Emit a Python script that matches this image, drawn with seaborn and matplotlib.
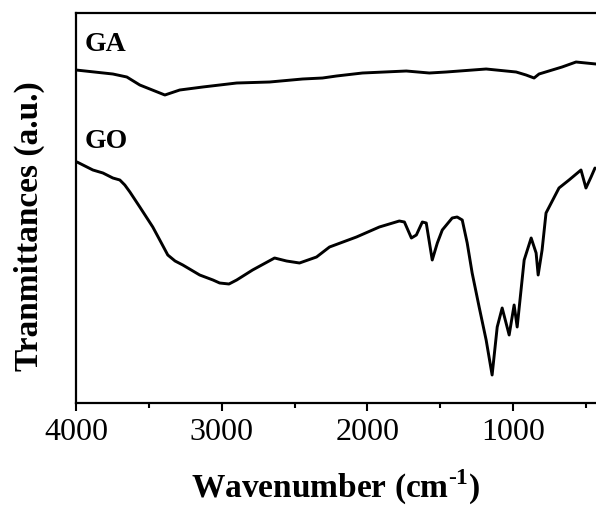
import numpy as np
import pandas as pd
import matplotlib
matplotlib.use("Agg")
import matplotlib.pyplot as plt
import seaborn as sns
from matplotlib.ticker import MultipleLocator

# GA spectrum (wavenumber, transmittance a.u.)
ga_wn = [4000, 3747, 3651, 3562, 3390, 3288, 3130, 2897, 2671, 2445, 2308, 2212,
         2034, 1733, 1575, 1459, 1185, 979, 911, 856, 822, 664, 568, 500, 431]
ga_t = [333, 329, 326, 318, 308, 313, 316, 320, 321, 324, 325, 327,
        330, 332, 330, 331, 334, 331, 328, 325, 329, 336, 341, 340, 339]

# GO spectrum
go_wn = [3993, 3884, 3815, 3747, 3699, 3665, 3630, 3562, 3473, 3425, 3370, 3320,
         3267, 3151, 3060, 3014, 2950, 2897, 2788, 2637, 2555, 2466, 2349, 2260,
         2075, 1918, 1781, 1746, 1698, 1664, 1623, 1596, 1555, 1520, 1486, 1418,
         1384, 1349, 1315, 1281, 1233, 1185, 1144, 1109, 1075, 1027, 993, 972,
         924, 876, 842, 828, 801, 774, 685, 616, 534, 500, 465, 438]
go_t = [241, 233, 230, 225, 223, 218, 211, 196, 176, 163, 148, 142,
        138, 128, 123, 120, 119, 123, 133, 145, 142, 140, 146, 156,
        166, 176, 182, 181, 165, 168, 181, 180, 143, 160, 173, 185,
        186, 183, 160, 130, 96, 63, 28, 76, 95, 68, 98, 76,
        143, 165, 150, 128, 153, 190, 215, 223, 233, 215, 226, 235]

sns.set_style("ticks")
plt.rcParams['font.family'] = ['Liberation Serif', 'DejaVu Serif']
plt.rcParams['mathtext.fontset'] = 'custom'
plt.rcParams['mathtext.rm'] = 'Liberation Serif'
plt.rcParams['mathtext.bf'] = 'Liberation Serif:bold'
plt.rcParams['text.color'] = 'black'
plt.rcParams['axes.labelcolor'] = 'black'
plt.rcParams['xtick.color'] = 'black'
plt.rcParams['axes.edgecolor'] = 'black'

fig = plt.figure(figsize=(5.96, 5.08), dpi=100)
ax = fig.add_axes([0.1275, 0.2067, 0.8725, 0.7677])

df_ga = pd.DataFrame({"wn": ga_wn, "t": ga_t})
df_go = pd.DataFrame({"wn": go_wn, "t": go_t})
sns.lineplot(data=df_ga, x="wn", y="t", color="black", linewidth=2.1, ax=ax,
             solid_joinstyle='round')
sns.lineplot(data=df_go, x="wn", y="t", color="black", linewidth=2.1, ax=ax,
             solid_joinstyle='round')

ax.set_xlim(4000, 431)
ax.set_ylim(0, 390)
ax.xaxis.set_major_locator(MultipleLocator(1000))
ax.xaxis.set_minor_locator(MultipleLocator(500))
ax.set_yticks([])
ax.tick_params(axis='x', which='major', direction='out', length=6, width=1.5,
               labelsize=23, pad=5, colors='black')
ax.tick_params(axis='x', which='minor', direction='out', length=3.5, width=1.5)

for s in ['left', 'bottom', 'top']:
    ax.spines[s].set_linewidth(1.6)
ax.spines['right'].set_visible(False)

ax.text(3938, 359, "GA", fontsize=20, fontweight='bold', va='center', ha='left')
ax.text(3938, 262, "GO", fontsize=20, fontweight='bold', va='center', ha='left')

ax.set_xlabel(r"Wavenumber (cm$^{\mathbf{\text{-}1}}$)", fontsize=24, fontweight='bold')
ax.set_ylabel("Tranmittances (a.u.)", fontsize=24, fontweight='bold')
ax.yaxis.set_label_coords(-0.06, 0.454)
ax.xaxis.set_label_coords(0.5, -0.165)

fig.savefig("out.png", dpi=100)
